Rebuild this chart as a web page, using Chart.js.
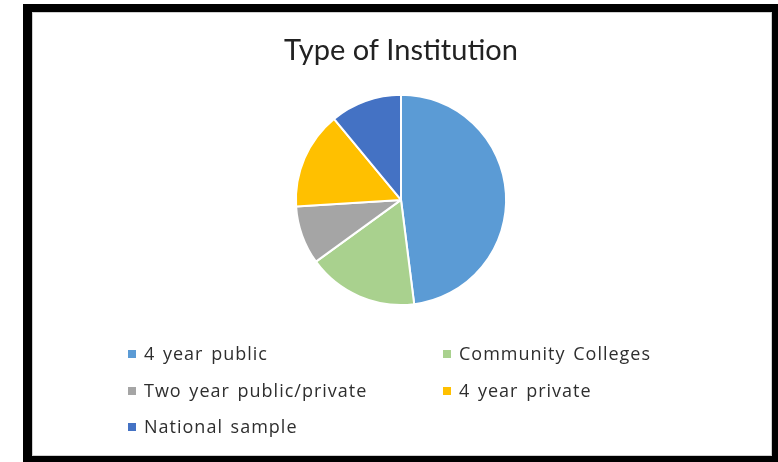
<!DOCTYPE html>
<html>
<head>
<meta charset="utf-8">
<script src="https://cdn.jsdelivr.net/npm/chart.js@4"></script>
<style>
  html, body { margin: 0; padding: 0; background: #fff; }
  body { width: 778px; height: 462px; position: relative; overflow: hidden; }
  .frame {
    position: absolute; left: 23px; top: 4px; width: 757px; height: 459px;
    box-sizing: border-box; border-style: solid; border-color: #000;
    border-width: 8px 8px 7px 9px;
    box-shadow: inset 0 0 0 1px #d0d0d0;
  }
  .wrap { position: absolute; left: 32px; top: 12px; width: 738px; height: 444px; }
  #legend { position: absolute; left: 0; top: 0; width: 778px; height: 462px; pointer-events: none;
    font-family: "Open Sans", sans-serif; font-size: 18px; letter-spacing: 1px; word-spacing: 2px; color: #2e2e2e; }
  #legend .item { position: absolute; white-space: nowrap; line-height: 20px; }
  #legend .box { display: inline-block; width: 8px; height: 8px; margin-right: 8px; vertical-align: 2px; }
</style>
</head>
<body>
<div class="frame"></div>
<div class="wrap"><canvas id="pie"></canvas></div>
<div id="legend"></div>
<script>
const categories = ['4 year public', 'Community Colleges', 'Two year public/private', '4 year private', 'National sample'];
const shares = [48, 17, 9, 15, 11];
const colors = ['#5B9BD5', '#A9D18E', '#A5A5A5', '#FFC000', '#4472C4'];

const config = {
  type: 'pie',
  data: {
    labels: categories,
    datasets: [{
      data: shares,
      backgroundColor: colors,
      borderColor: '#fff',
      borderWidth: 2
    }]
  },
  options: {
    responsive: true,
    maintainAspectRatio: false,
    animation: false,
    layout: { padding: { top: 0, bottom: 150, left: 0, right: 0 } },
    plugins: {
      legend: { display: false },
      tooltip: { enabled: false },
      title: {
        display: true,
        text: 'Type of Institution',
        color: '#222',
        font: { family: 'Lato', size: 29, weight: 'normal' },
        padding: { top: 21, bottom: 26 }
      }
    }
  }
};

const chart = new Chart(document.getElementById('pie'), config);

// legend laid out in two columns like the original
const legendEl = document.getElementById('legend');
const colX = [128, 443];
const rowY = [343, 380, 416];
categories.forEach((name, i) => {
  const it = document.createElement('div');
  it.className = 'item';
  it.style.left = colX[i % 2] + 'px';
  it.style.top = rowY[Math.floor(i / 2)] + 'px';
  const b = document.createElement('span');
  b.className = 'box';
  b.style.background = colors[i];
  it.appendChild(b);
  it.appendChild(document.createTextNode(name));
  legendEl.appendChild(it);
});
</script>
</body>
</html>
